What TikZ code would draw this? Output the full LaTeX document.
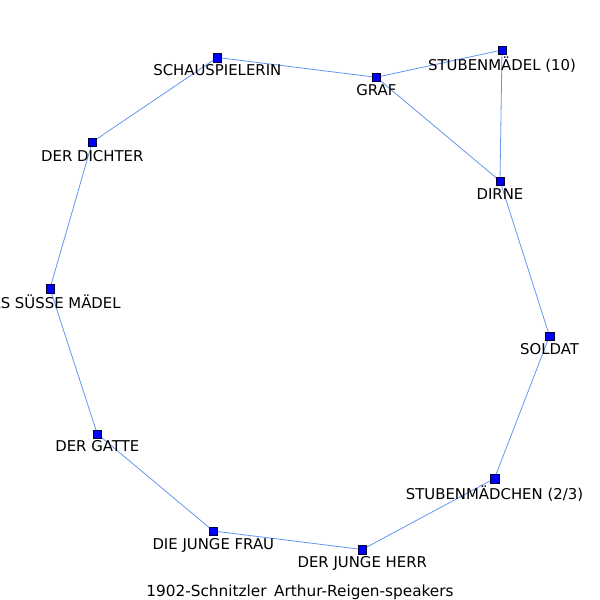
\documentclass[tikz,border=0pt]{standalone}
\usepackage{fontspec}
\setmainfont{DejaVu Sans}
\begin{document}
\begin{tikzpicture}[x=1pt,y=-1pt,
  vert/.style={draw=black!80!blue,line width=0.5pt,fill=blue,minimum size=8.5pt,inner sep=0pt,outer sep=0pt},
  lab/.style={anchor=base,inner sep=0pt,font=\fontsize{14.9}{18}\selectfont,text=black},
  edge/.style={draw={rgb,255:red,100;green,150;blue,240},line width=0.8pt}]
\useasboundingbox (0,0) rectangle (600,600);
\clip (0,0) rectangle (600,600);
% vertices positions
\coordinate (cSCH) at (217.3,57.5);
\coordinate (cGRAF) at (376.3,77.3);
\coordinate (cSTL) at (502,50);
\coordinate (cDIR) at (500,181);
\coordinate (cSOL) at (549.5,336);
\coordinate (cSTC) at (494.5,478.5);
\coordinate (cJH) at (362.3,549.5);
\coordinate (cJF) at (213.3,531);
\coordinate (cGAT) at (97.3,434);
\coordinate (cSUE) at (50,288.5);
\coordinate (cDIC) at (92.3,142);
% edges
\draw[edge] (cSCH) -- (cGRAF);
\draw[edge] (cGRAF) -- (cSTL);
\draw[edge] (cSTL) -- (cDIR);
\draw[edge] (cGRAF) -- (cDIR);
\draw[edge] (cDIR) -- (cSOL);
\draw[edge] (cSOL) -- (cSTC);
\draw[edge] (cSTC) -- (cJH);
\draw[edge] (cJH) -- (cJF);
\draw[edge] (cJF) -- (cGAT);
\draw[edge] (cGAT) -- (cSUE);
\draw[edge] (cSUE) -- (cDIC);
\draw[edge] (cDIC) -- (cSCH);
% nodes
\node[vert] (SCH) at (cSCH) {};
\node[vert] (GRAF) at (cGRAF) {};
\node[vert] (STL) at (cSTL) {};
\node[vert] (DIR) at (cDIR) {};
\node[vert] (SOL) at (cSOL) {};
\node[vert] (STC) at (cSTC) {};
\node[vert] (JH) at (cJH) {};
\node[vert] (JF) at (cJF) {};
\node[vert] (GAT) at (cGAT) {};
\node[vert] (SUE) at (cSUE) {};
\node[vert] (DIC) at (cDIC) {};
% labels
\node[lab] (lSCH) at ([yshift=-18pt]cSCH) {SCHAUSPIELERIN};
\node[lab] (lGRAF) at ([yshift=-18.5pt]cGRAF) {GRAF};
\node[lab] (lSTL) at ([yshift=-20.5pt]cSTL) {STUBENMÄDEL (10)};
\node[lab] (lDIR) at ([yshift=-18pt]cDIR) {DIRNE};
\node[lab] (lSOL) at ([yshift=-18.5pt]cSOL) {SOLDAT};
\node[lab] (lSTC) at ([yshift=-21pt]cSTC) {STUBENMÄDCHEN (2/3)};
\node[lab] (lJH) at ([yshift=-17.5pt]cJH) {DER JUNGE HERR};
\node[lab] (lJF) at ([yshift=-18pt]cJF) {DIE JUNGE FRAU};
\node[lab] (lGAT) at ([yshift=-17pt]cGAT) {DER GATTE};
\node[lab] (lSUE) at ([yshift=-20pt]cSUE) {DAS SÜSSE MÄDEL};
\node[lab] (lDIC) at ([yshift=-19pt]cDIC) {DER DICHTER};
\node[lab,font=\fontsize{15.3}{18}\selectfont] (title) at (300,596) {1902-Schnitzler\hspace{0.5em}Arthur-Reigen-speakers};
\end{tikzpicture}
\end{document}
